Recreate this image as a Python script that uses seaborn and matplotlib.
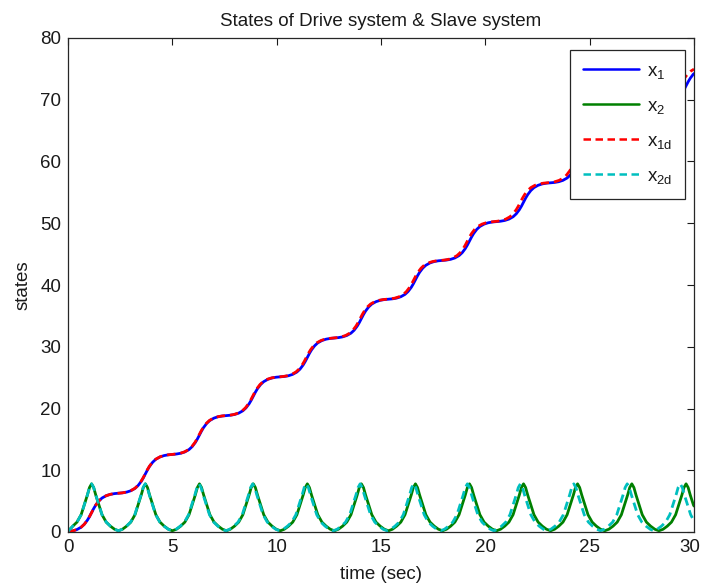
import matplotlib
matplotlib.use("Agg")
import matplotlib.pyplot as plt
import matplotlib.transforms as mtransforms
import seaborn as sns
import pandas as pd

# ---- drive system: time samples, x1 (angle) and x2 (velocity) ----
t_drive = [
    0.00,
    0.23, 0.43, 0.63, 0.78, 0.93, 1.03, 1.13, 1.23, 1.33, 1.48, 1.63, 1.83, 2.03, 2.23, 2.42,
    2.61, 2.81, 3.01, 3.21, 3.36, 3.51, 3.61, 3.71, 3.81, 3.91, 4.06, 4.21, 4.41, 4.61, 4.81, 5.00,
    5.20, 5.40, 5.60, 5.80, 5.95, 6.10, 6.20, 6.30, 6.40, 6.50, 6.65, 6.80, 7.00, 7.20, 7.40, 7.59,
    7.78, 7.98, 8.18, 8.38, 8.53, 8.68, 8.78, 8.88, 8.98, 9.08, 9.23, 9.38, 9.58, 9.78, 9.98, 10.18,
    10.37, 10.57, 10.77, 10.97, 11.12, 11.27, 11.37, 11.47, 11.57, 11.67, 11.82, 11.97, 12.17, 12.37, 12.57, 12.77,
    12.96, 13.16, 13.36, 13.56, 13.71, 13.86, 13.96, 14.06, 14.16, 14.26, 14.41, 14.56, 14.76, 14.96, 15.16, 15.36,
    15.55, 15.75, 15.95, 16.15, 16.30, 16.45, 16.55, 16.65, 16.75, 16.85, 17.00, 17.15, 17.35, 17.55, 17.75, 17.95,
    18.14, 18.34, 18.54, 18.74, 18.89, 19.04, 19.14, 19.24, 19.34, 19.44, 19.59, 19.74, 19.94, 20.14, 20.34, 20.54,
    20.73, 20.93, 21.13, 21.33, 21.48, 21.63, 21.73, 21.83, 21.93, 22.03, 22.18, 22.33, 22.53, 22.73, 22.93, 23.13,
    23.32, 23.52, 23.72, 23.92, 24.07, 24.22, 24.32, 24.42, 24.52, 24.62, 24.77, 24.92, 25.12, 25.32, 25.52, 25.72,
    25.92, 26.12, 26.32, 26.52, 26.67, 26.82, 26.92, 27.02, 27.12, 27.22, 27.37, 27.52, 27.72, 27.92, 28.12, 28.32,
    28.52, 28.72, 28.92, 29.12, 29.27, 29.42, 29.52, 29.62, 29.72, 29.82, 29.97,
    30.00,
]
x1 = [
    0.00,
    0.18, 0.40, 0.78, 1.25, 1.92, 2.49, 3.14, 3.79, 4.36, 5.03, 5.50, 5.88, 6.10, 6.22, 6.28,
    6.34, 6.46, 6.68, 7.06, 7.53, 8.20, 8.77, 9.42, 10.07, 10.64, 11.31, 11.78, 12.16, 12.38, 12.50, 12.57,
    12.63, 12.75, 12.97, 13.35, 13.82, 14.49, 15.06, 15.71, 16.36, 16.93, 17.60, 18.07, 18.45, 18.67, 18.79, 18.85,
    18.91, 19.03, 19.25, 19.63, 20.10, 20.77, 21.34, 21.99, 22.64, 23.21, 23.88, 24.35, 24.73, 24.95, 25.07, 25.13,
    25.19, 25.31, 25.53, 25.91, 26.38, 27.05, 27.62, 28.27, 28.92, 29.49, 30.16, 30.63, 31.01, 31.23, 31.35, 31.42,
    31.48, 31.60, 31.82, 32.20, 32.67, 33.34, 33.91, 34.56, 35.21, 35.78, 36.45, 36.92, 37.30, 37.52, 37.64, 37.70,
    37.76, 37.88, 38.10, 38.48, 38.95, 39.62, 40.19, 40.84, 41.49, 42.06, 42.73, 43.20, 43.58, 43.80, 43.92, 43.98,
    44.04, 44.16, 44.38, 44.76, 45.23, 45.90, 46.47, 47.12, 47.77, 48.34, 49.01, 49.48, 49.86, 50.08, 50.20, 50.27,
    50.33, 50.45, 50.67, 51.05, 51.52, 52.19, 52.76, 53.41, 54.06, 54.63, 55.30, 55.77, 56.15, 56.37, 56.49, 56.55,
    56.61, 56.73, 56.95, 57.33, 57.80, 58.47, 59.04, 59.69, 60.34, 60.91, 61.58, 62.05, 62.43, 62.65, 62.77, 62.83,
    62.89, 63.01, 63.23, 63.61, 64.08, 64.75, 65.32, 65.97, 66.62, 67.19, 67.86, 68.33, 68.71, 68.93, 69.05, 69.12,
    69.18, 69.30, 69.52, 69.90, 70.37, 71.04, 71.61, 72.26, 72.91, 73.48, 74.15,
    74.24,
]
x2 = [
    0.10,
    0.95, 1.60, 2.80, 4.40, 6.00, 7.20, 7.80, 7.20, 6.00, 4.40, 2.80, 1.60, 0.95, 0.45, 0.20,
    0.45, 0.95, 1.60, 2.80, 4.40, 6.00, 7.20, 7.80, 7.20, 6.00, 4.40, 2.80, 1.60, 0.95, 0.45, 0.20,
    0.45, 0.95, 1.60, 2.80, 4.40, 6.00, 7.20, 7.80, 7.20, 6.00, 4.40, 2.80, 1.60, 0.95, 0.45, 0.20,
    0.45, 0.95, 1.60, 2.80, 4.40, 6.00, 7.20, 7.80, 7.20, 6.00, 4.40, 2.80, 1.60, 0.95, 0.45, 0.20,
    0.45, 0.95, 1.60, 2.80, 4.40, 6.00, 7.20, 7.80, 7.20, 6.00, 4.40, 2.80, 1.60, 0.95, 0.45, 0.20,
    0.45, 0.95, 1.60, 2.80, 4.40, 6.00, 7.20, 7.80, 7.20, 6.00, 4.40, 2.80, 1.60, 0.95, 0.45, 0.20,
    0.45, 0.95, 1.60, 2.80, 4.40, 6.00, 7.20, 7.80, 7.20, 6.00, 4.40, 2.80, 1.60, 0.95, 0.45, 0.20,
    0.45, 0.95, 1.60, 2.80, 4.40, 6.00, 7.20, 7.80, 7.20, 6.00, 4.40, 2.80, 1.60, 0.95, 0.45, 0.20,
    0.45, 0.95, 1.60, 2.80, 4.40, 6.00, 7.20, 7.80, 7.20, 6.00, 4.40, 2.80, 1.60, 0.95, 0.45, 0.20,
    0.45, 0.95, 1.60, 2.80, 4.40, 6.00, 7.20, 7.80, 7.20, 6.00, 4.40, 2.80, 1.60, 0.95, 0.45, 0.20,
    0.45, 0.95, 1.60, 2.80, 4.40, 6.00, 7.20, 7.80, 7.20, 6.00, 4.40, 2.80, 1.60, 0.95, 0.45, 0.20,
    0.45, 0.95, 1.60, 2.80, 4.40, 6.00, 7.20, 7.80, 7.20, 6.00, 4.40,
    4.20,
]

# ---- slave system: time samples, x1d and x2d ----
t_slave = [
    0.00,
    0.23, 0.43, 0.63, 0.78, 0.93, 1.03, 1.13, 1.23, 1.33, 1.48, 1.63, 1.83, 2.03, 2.23, 2.42,
    2.60, 2.80, 3.00, 3.20, 3.35, 3.50, 3.60, 3.70, 3.80, 3.90, 4.05, 4.20, 4.40, 4.60, 4.80, 4.99,
    5.18, 5.38, 5.58, 5.78, 5.93, 6.08, 6.18, 6.28, 6.38, 6.48, 6.63, 6.78, 6.98, 7.18, 7.38, 7.57,
    7.75, 7.95, 8.15, 8.35, 8.50, 8.65, 8.75, 8.85, 8.95, 9.05, 9.20, 9.35, 9.55, 9.75, 9.95, 10.14,
    10.32, 10.52, 10.72, 10.92, 11.07, 11.22, 11.32, 11.42, 11.52, 11.62, 11.77, 11.92, 12.12, 12.32, 12.52, 12.71,
    12.90, 13.10, 13.30, 13.50, 13.65, 13.80, 13.90, 14.00, 14.10, 14.20, 14.35, 14.50, 14.70, 14.90, 15.10, 15.29,
    15.47, 15.67, 15.87, 16.07, 16.22, 16.37, 16.47, 16.57, 16.67, 16.77, 16.92, 17.07, 17.27, 17.47, 17.67, 17.86,
    18.04, 18.24, 18.44, 18.64, 18.79, 18.94, 19.04, 19.14, 19.24, 19.34, 19.49, 19.64, 19.84, 20.04, 20.24, 20.41,
    20.58, 20.78, 20.98, 21.18, 21.33, 21.48, 21.58, 21.68, 21.78, 21.88, 22.03, 22.18, 22.38, 22.58, 22.78, 22.96,
    23.14, 23.34, 23.54, 23.74, 23.89, 24.04, 24.14, 24.24, 24.34, 24.44, 24.59, 24.74, 24.94, 25.14, 25.34, 25.52,
    25.70, 25.90, 26.10, 26.30, 26.45, 26.60, 26.70, 26.80, 26.90, 27.00, 27.15, 27.30, 27.50, 27.70, 27.90, 28.07,
    28.24, 28.44, 28.64, 28.84, 28.99, 29.14, 29.24, 29.34, 29.44, 29.54, 29.69, 29.84,
    30.00,
]
x1d = [
    0.00,
    0.18, 0.40, 0.78, 1.25, 1.92, 2.49, 3.14, 3.79, 4.36, 5.03, 5.50, 5.88, 6.10, 6.22, 6.28,
    6.34, 6.46, 6.68, 7.06, 7.53, 8.20, 8.77, 9.42, 10.07, 10.64, 11.31, 11.78, 12.16, 12.38, 12.50, 12.57,
    12.63, 12.75, 12.97, 13.35, 13.82, 14.49, 15.06, 15.71, 16.36, 16.93, 17.60, 18.07, 18.45, 18.67, 18.79, 18.85,
    18.91, 19.03, 19.25, 19.63, 20.10, 20.77, 21.34, 21.99, 22.64, 23.21, 23.88, 24.35, 24.73, 24.95, 25.07, 25.13,
    25.19, 25.31, 25.53, 25.91, 26.38, 27.05, 27.62, 28.27, 28.92, 29.49, 30.16, 30.63, 31.01, 31.23, 31.35, 31.42,
    31.48, 31.60, 31.82, 32.20, 32.67, 33.34, 33.91, 34.56, 35.21, 35.78, 36.45, 36.92, 37.30, 37.52, 37.64, 37.70,
    37.76, 37.88, 38.10, 38.48, 38.95, 39.62, 40.19, 40.84, 41.49, 42.06, 42.73, 43.20, 43.58, 43.80, 43.92, 43.98,
    44.04, 44.16, 44.38, 44.76, 45.23, 45.90, 46.47, 47.12, 47.77, 48.34, 49.01, 49.48, 49.86, 50.08, 50.20, 50.27,
    50.33, 50.45, 50.67, 51.05, 51.52, 52.19, 52.76, 53.41, 54.06, 54.63, 55.30, 55.77, 56.15, 56.37, 56.49, 56.55,
    56.61, 56.73, 56.95, 57.33, 57.80, 58.47, 59.04, 59.69, 60.34, 60.91, 61.58, 62.05, 62.43, 62.65, 62.77, 62.83,
    62.89, 63.01, 63.23, 63.61, 64.08, 64.75, 65.32, 65.97, 66.62, 67.19, 67.86, 68.33, 68.71, 68.93, 69.05, 69.12,
    69.18, 69.30, 69.52, 69.90, 70.37, 71.04, 71.61, 72.26, 72.91, 73.48, 74.15, 74.62,
    74.96,
]
x2d = [
    0.10,
    0.95, 1.60, 2.80, 4.40, 6.00, 7.20, 7.80, 7.20, 6.00, 4.40, 2.80, 1.60, 0.95, 0.45, 0.20,
    0.45, 0.95, 1.60, 2.80, 4.40, 6.00, 7.20, 7.80, 7.20, 6.00, 4.40, 2.80, 1.60, 0.95, 0.45, 0.20,
    0.45, 0.95, 1.60, 2.80, 4.40, 6.00, 7.20, 7.80, 7.20, 6.00, 4.40, 2.80, 1.60, 0.95, 0.45, 0.20,
    0.45, 0.95, 1.60, 2.80, 4.40, 6.00, 7.20, 7.80, 7.20, 6.00, 4.40, 2.80, 1.60, 0.95, 0.45, 0.20,
    0.45, 0.95, 1.60, 2.80, 4.40, 6.00, 7.20, 7.80, 7.20, 6.00, 4.40, 2.80, 1.60, 0.95, 0.45, 0.20,
    0.45, 0.95, 1.60, 2.80, 4.40, 6.00, 7.20, 7.80, 7.20, 6.00, 4.40, 2.80, 1.60, 0.95, 0.45, 0.20,
    0.45, 0.95, 1.60, 2.80, 4.40, 6.00, 7.20, 7.80, 7.20, 6.00, 4.40, 2.80, 1.60, 0.95, 0.45, 0.20,
    0.45, 0.95, 1.60, 2.80, 4.40, 6.00, 7.20, 7.80, 7.20, 6.00, 4.40, 2.80, 1.60, 0.95, 0.45, 0.20,
    0.45, 0.95, 1.60, 2.80, 4.40, 6.00, 7.20, 7.80, 7.20, 6.00, 4.40, 2.80, 1.60, 0.95, 0.45, 0.20,
    0.45, 0.95, 1.60, 2.80, 4.40, 6.00, 7.20, 7.80, 7.20, 6.00, 4.40, 2.80, 1.60, 0.95, 0.45, 0.20,
    0.45, 0.95, 1.60, 2.80, 4.40, 6.00, 7.20, 7.80, 7.20, 6.00, 4.40, 2.80, 1.60, 0.95, 0.45, 0.20,
    0.45, 0.95, 1.60, 2.80, 4.40, 6.00, 7.20, 7.80, 7.20, 6.00, 4.40, 2.80,
    1.80,
]

series_labels = [r"x$_\mathregular{1}$", r"x$_\mathregular{2}$",
                 r"x$_\mathregular{1d}$", r"x$_\mathregular{2d}$"]
x_ticks = [0, 5, 10, 15, 20, 25, 30]
y_ticks = [0, 10, 20, 30, 40, 50, 60, 70, 80]

sns.set_style("white")
plt.rcParams.update({
    "font.family": ["Liberation Sans", "DejaVu Sans"],
    "mathtext.fontset": "custom",
    "mathtext.rm": "Liberation Sans",
    "mathtext.it": "Liberation Sans:italic",
    "text.color": "#1a1a1a",
    "axes.labelcolor": "#1a1a1a",
    "xtick.color": "#1a1a1a",
    "ytick.color": "#1a1a1a",
})

FS = 13.5
fig = plt.figure(figsize=(7.02, 5.86), dpi=100)
fig.patch.set_facecolor("white")
ax = fig.add_axes([68 / 702, 54 / 586, 626 / 702, 494 / 586])

drive = pd.DataFrame({"t": t_drive, "x1": x1, "x2": x2})
slave = pd.DataFrame({"t": t_slave, "x1d": x1d, "x2d": x2d})

lw = 2.0
dash = (0, (3.0, 1.8))
sns.lineplot(data=drive, x="t", y="x1", ax=ax, color=(0, 0, 1), lw=lw,
             estimator=None, sort=False, label=series_labels[0])
sns.lineplot(data=drive, x="t", y="x2", ax=ax, color=(0, 0.5, 0), lw=lw,
             estimator=None, sort=False, label=series_labels[1])
sns.lineplot(data=slave, x="t", y="x1d", ax=ax, color=(1, 0, 0), lw=lw,
             linestyle=dash, estimator=None, sort=False, label=series_labels[2])
sns.lineplot(data=slave, x="t", y="x2d", ax=ax, color=(0, 0.75, 0.75), lw=lw,
             linestyle=dash, estimator=None, sort=False, label=series_labels[3])

ax.set_xlim(0, 30)
ax.set_ylim(0, 80)
ax.set_xticks(x_ticks)
ax.set_yticks(y_ticks)
ax.tick_params(direction="in", length=5, width=0.8, top=True, right=True,
               labelsize=FS, pad=5)
for sp in ax.spines.values():
    sp.set_visible(True)
    sp.set_color("#262626")
    sp.set_linewidth(0.9)

# keep the last x tick label inside the figure edge
last_lbl = ax.get_xticklabels()[-1]
last_lbl.set_transform(last_lbl.get_transform() +
                       mtransforms.ScaledTranslation(-0.04, 0, fig.dpi_scale_trans))

ax.set_title("States of Drive system & Slave system", fontsize=FS, pad=9)
ax.set_xlabel("time (sec)", fontsize=FS, labelpad=7)
ax.set_ylabel("states", fontsize=FS, labelpad=6)

leg = ax.legend(handles=ax.lines[:4], labels=series_labels, loc="upper right",
                bbox_to_anchor=((685 - 68) / 626, (532 - 50) / 494),
                borderaxespad=0, fontsize=FS, frameon=True, fancybox=False,
                shadow=False, framealpha=1, edgecolor="#262626",
                handlelength=3.0, handletextpad=0.4, labelspacing=0.9,
                borderpad=0.68)
leg.get_frame().set_linewidth(0.9)
for h in leg.get_lines():
    h.set_linewidth(1.8)

fig.savefig("out.png", dpi=100, facecolor="white")
